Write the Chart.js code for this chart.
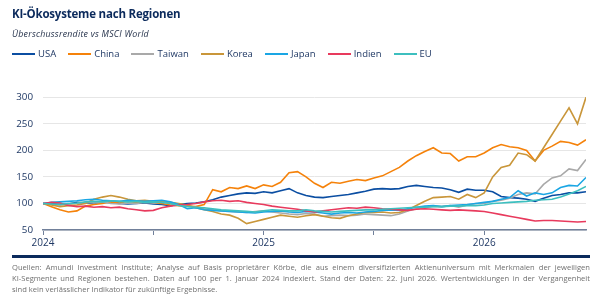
<!DOCTYPE html>
<html lang="de">
<head>
<meta charset="utf-8">
<script src="https://cdn.jsdelivr.net/npm/chart.js@4"></script>
<style>
  body { margin: 0; background: #fff; font-family: "Open Sans", sans-serif; }
  #wrap { position: relative; width: 602px; height: 300px; overflow: hidden; }
  #chart { position: absolute; left: 0; top: 0; }
  .title { position: absolute; left: 12px; top: 6px; font-size: 11.5px; font-weight: 700; color: #0b2a5c; letter-spacing: -0.2px; }
  .sub { position: absolute; left: 12px; top: 28px; font-size: 8.8px; letter-spacing: 0.25px; font-style: italic; color: #1e2b45; }
  #legend { position: absolute; left: 12px; top: 47px; display: flex; font-size: 9.5px; color: #1f3864; }
  #legend span { display: flex; align-items: center; margin-right: 12px; }
  #legend i { display: inline-block; width: 23px; height: 2px; margin-right: 3px; }
  .rule { position: absolute; left: 12px; top: 255px; width: 578px; height: 3px; background: #0b2a5c; }
  .foot { position: absolute; left: 12px; width: 578px; font-size: 7.6px; color: #6f6f6f; line-height: 11px; }
  .just { text-align: justify; text-align-last: justify; }
</style>
</head>
<body>
<div id="wrap">
  <canvas id="chart" width="602" height="300"></canvas>
  <div class="title">KI-Ökosysteme nach Regionen</div>
  <div class="sub">Überschussrendite vs MSCI World</div>
  <div id="legend"></div>
  <div class="rule"></div>
  <div class="foot just" style="top:262px">Quellen: Amundi Investment Institute; Analyse auf Basis proprietärer Körbe, die aus einem diversifizierten Aktienuniversum mit Merkmalen der jeweiligen</div>
  <div class="foot just" style="top:273px">KI-Segmente und Regionen bestehen. Daten auf 100 per 1. Januar 2024 indexiert. Stand der Daten: 22. Juni 2026. Wertentwicklungen in der Vergangenheit</div>
  <div class="foot" style="top:284px">sind kein verlässlicher Indikator für zukünftige Ergebnisse.</div>
</div>
<script>
// two-week steps starting 1 Jan 2024, last point 22 Jun 2026
const yearTicks = [0, 13, 26, 39, 52]
const yearLabels = { 0: '2024', 26: '2025', 52: '2026' }

const names = ['USA', 'China', 'Taiwan', 'Korea', 'Japan', 'Indien', 'EU']
const colors = ['#0b4ea2', '#f5820a', '#a9a9a9', '#c9963a', '#1aa6e4', '#e83a5d', '#3dbfbf']

const usa = [100,100,98,99,102,101,100,103,102,100,99,100,101,99,98,96,98,100,101,103,107,112,115,118,120,119,
  122,120,124,128,120,115,112,111,113,115,117,120,123,127,128,127,128,132,134,132,130,129,126,121,127,125,
  125,122,113,111,110,108,104,110,115,117,120,120,122]
const china = [100,94,88,84,86,95,98,100,103,101,104,102,103,102,100,97,96,95,94,98,126,122,130,128,133,128,
  135,132,140,158,160,150,138,130,140,138,142,145,143,148,152,160,168,180,190,198,205,195,194,180,188,188,
  195,205,211,207,205,200,180,200,208,217,215,210,220]
const taiwan = [100,98,97,99,100,102,101,103,100,99,101,100,102,101,103,100,98,96,93,90,88,86,85,84,83,85,
  86,84,82,80,79,81,80,76,77,78,77,78,80,79,78,77,80,86,90,92,95,94,96,93,97,100,
  100,104,106,110,117,120,118,136,148,152,165,162,183]
const korea = [100,97,94,96,97,100,108,112,115,112,108,105,106,104,103,102,100,97,92,88,85,80,78,72,62,66,
  70,74,78,76,74,77,79,76,73,72,77,80,83,83,84,82,83,88,96,104,111,112,113,108,117,111,
  120,150,168,172,195,192,180,205,230,255,280,250,300]
const japan = [100,102,103,104,105,107,108,106,105,104,106,105,104,105,106,103,98,90,92,88,87,86,85,84,83,82,
  84,85,86,84,83,85,84,82,80,82,83,82,84,85,87,88,87,90,93,95,96,94,96,97,98,100,
  102,104,108,111,124,114,120,117,120,130,134,133,149]
const indien = [100,102,101,96,94,95,93,94,92,93,90,88,86,87,92,95,97,98,100,103,105,106,104,105,102,100,
  98,95,93,91,89,86,84,86,88,90,92,91,93,92,90,89,88,87,89,90,89,88,87,88,87,86,
  85,82,79,76,73,70,67,68,68,67,66,65,66]
const eu = [100,99,98,100,101,103,104,103,105,104,103,104,102,103,102,100,96,94,93,92,90,88,87,86,85,84,
  86,88,87,86,86,88,86,85,84,85,86,87,88,88,89,90,91,92,93,93,94,94,95,95,96,96,
  97,100,101,102,103,104,106,107,108,112,118,124,132]

const series = [usa, china, taiwan, korea, japan, indien, eu]

const legend = document.getElementById('legend')
names.forEach((n, i) => {
  legend.innerHTML += `<span><i style="background:${colors[i]}"></i>${n}</span>`
})

const datasets = series.map((s, i) => ({
  label: names[i],
  data: s.map((v, k) => ({ x: k, y: v })),
  borderColor: colors[i],
  backgroundColor: colors[i],
  borderWidth: 1.6,
  pointRadius: 0,
  tension: 0,
  order: names.length - i
}))

new Chart(document.getElementById('chart'), {
  type: 'line',
  data: { datasets },
  options: {
    responsive: false,
    animation: false,
    layout: { padding: { top: 92, bottom: 50, left: 0, right: 16 } },
    plugins: { legend: { display: false }, tooltip: { enabled: false } },
    scales: {
      x: {
        type: 'linear', min: 0, max: 64,
        afterBuildTicks: s => { s.ticks = yearTicks.map(v => ({ value: v })) },
        afterFit: s => { s.height = 20 },
        ticks: { callback: v => yearLabels[v] || '', color: '#1f3864', font: { family: 'Open Sans', size: 10 }, maxRotation: 0, padding: 2 },
        grid: { drawOnChartArea: false, drawTicks: true, tickLength: 5, color: '#71809a' },
        border: { color: '#71809a', width: 1.5 }
      },
      y: {
        min: 50, max: 310,
        afterBuildTicks: s => { s.ticks = [50, 100, 150, 200, 250, 300].map(v => ({ value: v })) },
        afterFit: s => { s.width = 43 },
        ticks: { color: '#1f3864', font: { family: 'Open Sans', size: 9.8 }, padding: 10 },
        grid: { color: '#e6e6e6', drawTicks: false },
        border: { display: false }
      }
    }
  }
})
</script>
</body>
</html>
